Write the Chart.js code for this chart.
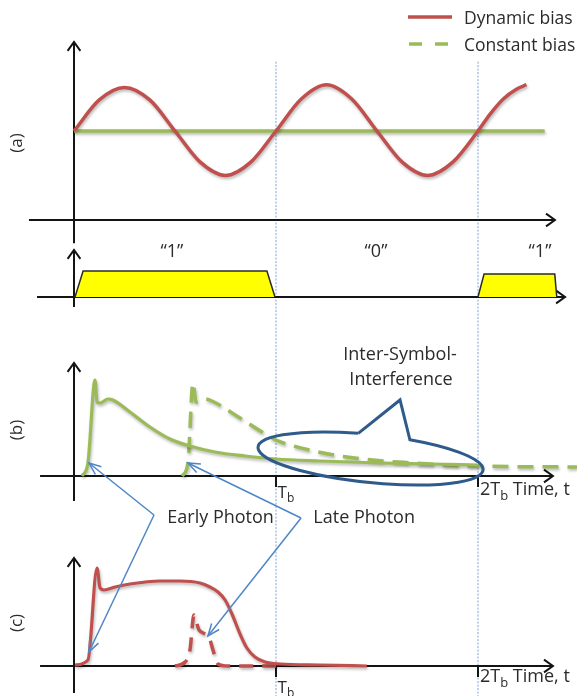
<!DOCTYPE html>
<html>
<head>
<meta charset="utf-8">
<script src="https://cdn.jsdelivr.net/npm/chart.js@4.4.1/dist/chart.umd.min.js"></script>
<style>
html,body{margin:0;padding:0;background:#fff;}
#wrap{position:relative;width:577px;height:696px;}
canvas{display:block;}
</style>
</head>
<body>
<div id="wrap"><canvas id="chart" width="577" height="696"></canvas></div>
<script>
// ===== DATA (time in units of the bit period Tb) =====
// (a) bias
const biasTime     = [0, 0.125, 0.25, 0.375, 0.5, 0.625, 0.75, 0.875, 1.0, 1.125, 1.25, 1.375, 1.5, 1.625, 1.75, 1.875, 2.0, 2.06, 2.125, 2.19, 2.24];
const dynamicBias  = [1.0, 1.35, 1.49, 1.35, 1.0, 0.65, 0.5, 0.65, 1.0, 1.36, 1.52, 1.36, 1.0, 0.65, 0.5, 0.65, 1.0, 1.19, 1.36, 1.47, 1.52];
const constTime    = [0, 2.33];
const constantBias = [1.0, 1.0];
// bit pattern
const bitLabels  = ['\u201C1\u201D', '\u201C0\u201D', '\u201C1\u201D'];
const bitCenters = [0.485, 1.495, 2.307];
const bit1Time   = [0.005, 0.045, 0.955, 0.995];
const bit1Level  = [0, 1, 1, 0];
const bit3Time   = [2.0, 2.03, 2.38, 2.39];
const bit3Level  = [0, 0.88, 0.88, 0];
// (b) constant-bias detector response
const earlyConstTime = [0.040, 0.069, 0.104, 0.114, 0.129, 0.168, 0.193, 0.277, 0.376, 0.475, 0.574, 0.698, 0.847, 1.0, 1.218, 1.515, 1.762, 1.995];
const earlyConst     = [0, 0.13, 0.96, 0.74, 0.73, 0.77, 0.76, 0.64, 0.49, 0.37, 0.30, 0.24, 0.20, 0.17, 0.15, 0.13, 0.12, 0.11];
const lateConstTime  = [0.535, 0.564, 0.589, 0.604, 0.649, 0.683, 0.822, 0.931, 1.0, 1.069, 1.351, 1.678, 1.995, 2.49];
const lateConst      = [0, 0.13, 0.93, 0.74, 0.77, 0.75, 0.58, 0.44, 0.36, 0.31, 0.19, 0.13, 0.10, 0.09];
// (c) dynamic-bias detector response
const earlyDynTime = [0.005, 0.069, 0.114, 0.129, 0.149, 0.203, 0.277, 0.426, 0.525, 0.624, 0.673, 0.713, 0.748, 0.782, 0.822, 0.856, 0.896, 0.946, 1.02, 1.218, 1.45];
const earlyDyn     = [0.01, 0.06, 0.98, 0.78, 0.76, 0.79, 0.82, 0.85, 0.85, 0.83, 0.79, 0.74, 0.66, 0.52, 0.32, 0.18, 0.09, 0.04, 0.02, 0.01, 0.0];
const lateDynTime  = [0.5, 0.55, 0.574, 0.594, 0.619, 0.668, 0.688, 0.713, 0.762, 1.0];
const lateDyn      = [0, 0.04, 0.16, 0.51, 0.36, 0.29, 0.16, 0.02, 0, 0];
// tick labels
const boundaryTimes  = [1, 2];
const boundaryLabels = ['T', '2T'];
const boundarySub    = 'b';
const timeTitle      = ' Time, t';
const legendLabels   = ['Dynamic bias', 'Constant bias'];
const panelLabels    = ['(a)', '(b)', '(c)'];

// ===== LAYOUT / STYLE =====
const W = 577, H = 696, X0PX = 74, TBPX = 202;
const PANELS = { yA:{base:220, unit:89}, yD:{base:297, unit:26}, yB:{base:476, unit:100}, yC:{base:666, unit:100} };
const COL = { red:'#c0504d', green:'#9bbb59', yellow:'#ffff00', axis:'#141414', guide:'rgba(90,140,205,0.8)',
              callout:'#2f5b8c', arrow:'#4f86c6', text:'#2b2b2b' };
const FONT = "'Open Sans', 'DejaVu Sans', sans-serif";
const AXES = [
  {y:'yA', x0:-0.223, x1:2.381, y0:-0.26, y1:2.0},
  {y:'yD', x0:-0.183, x1:2.431, y0:-0.38, y1:1.81},
  {y:'yB', x0:-0.168, x1:2.371, y0:-0.25, y1:1.13},
  {y:'yC', x0:-0.168, x1:2.371, y0:-0.27, y1:1.08}
];

const pts = (xs, ys) => xs.map((x, i) => ({x, y: ys[i]}));
const yRange = p => ({min: -(H - p.base) / p.unit, max: p.base / p.unit});

function line(ctx, a, b) { ctx.beginPath(); ctx.moveTo(a[0], a[1]); ctx.lineTo(b[0], b[1]); ctx.stroke(); }
function head(ctx, from, to, len, ang) {
  const t = Math.atan2(to[1] - from[1], to[0] - from[0]);
  ctx.beginPath();
  ctx.moveTo(to[0] - len * Math.cos(t - ang), to[1] - len * Math.sin(t - ang));
  ctx.lineTo(to[0], to[1]);
  ctx.lineTo(to[0] - len * Math.cos(t + ang), to[1] - len * Math.sin(t + ang));
  ctx.stroke();
}
function text(ctx, s, x, y, size, align) {
  ctx.font = size + 'px ' + FONT; ctx.fillStyle = COL.text;
  ctx.textAlign = align || 'left'; ctx.textBaseline = 'middle';
  ctx.fillText(s, x, y);
}
function subText(ctx, main, sub, tail, x, y, size) {
  ctx.font = size + 'px ' + FONT; ctx.fillStyle = COL.text; ctx.textAlign = 'left'; ctx.textBaseline = 'middle';
  ctx.fillText(main, x, y); let w = ctx.measureText(main).width;
  ctx.font = Math.round(size * 0.72) + 'px ' + FONT;
  ctx.fillText(sub, x + w, y + size * 0.33); w += ctx.measureText(sub).width;
  if (tail) { ctx.font = size + 'px ' + FONT; ctx.fillText(tail, x + w, y); }
}

const decor = {
  id: 'decor',
  beforeDatasetsDraw(chart) {
    const ctx = chart.ctx, xs = chart.scales.x, S = chart.scales;
    const P = (x, y, id) => [xs.getPixelForValue(x), S[id].getPixelForValue(y)];
    ctx.save();
    ctx.strokeStyle = COL.guide; ctx.lineWidth = 1; ctx.setLineDash([2, 1.5]);
    boundaryTimes.forEach(t => line(ctx, P(t, 1.78, 'yA'), P(t, -0.31, 'yC')));
    ctx.setLineDash([]);
    ctx.strokeStyle = COL.axis; ctx.lineWidth = 2; ctx.lineCap = 'butt';
    AXES.forEach(a => {
      const l = P(a.x0, 0, a.y), r = P(a.x1, 0, a.y), b = P(0, a.y0, a.y), t = P(0, a.y1, a.y);
      line(ctx, l, r); head(ctx, l, r, 11, 0.62);
      line(ctx, b, t); head(ctx, b, t, 11, 0.62);
    });
    ['yB', 'yC'].forEach(id => boundaryTimes.forEach(t => line(ctx, P(t, 0, id), P(t, -0.11, id))));
    ctx.restore();
  },
  beforeDatasetDraw(chart, args) {
    const ds = chart.data.datasets[args.index];
    chart.ctx.save();
    if (ds.shadow) {
      chart.ctx.shadowColor = 'rgba(0,0,0,0.28)'; chart.ctx.shadowBlur = 3;
      chart.ctx.shadowOffsetX = 1; chart.ctx.shadowOffsetY = 2;
    }
  },
  afterDatasetDraw(chart) { chart.ctx.restore(); },
  afterDatasetsDraw(chart) {
    const ctx = chart.ctx, xs = chart.scales.x, S = chart.scales;
    const P = (x, y, id) => [xs.getPixelForValue(x), S[id].getPixelForValue(y)];
    ctx.save();
    // ISI callout ellipse
    const eL = P(0.911, 0.29, 'yB'), eR = P(2.025, 0.06, 'yB');
    const cx = (eL[0] + eR[0]) / 2, cy = (eL[1] + eR[1]) / 2;
    const ea = Math.hypot(eR[0] - eL[0], eR[1] - eL[1]) / 2, rot = Math.atan2(eR[1] - eL[1], eR[0] - eL[0]);
    const eb = Math.abs(S.yB.getPixelForValue(0) - S.yB.getPixelForValue(0.24));
    const param = p => { const dx = p[0] - cx, dy = p[1] - cy;
      const u = dx * Math.cos(rot) + dy * Math.sin(rot), v = -dx * Math.sin(rot) + dy * Math.cos(rot);
      return Math.atan2(v / eb, u / ea); };
    const onE = t => { const u = ea * Math.cos(t), v = eb * Math.sin(t);
      return [cx + u * Math.cos(rot) - v * Math.sin(rot), cy + u * Math.sin(rot) + v * Math.cos(rot)]; };
    const tL = param(P(1.416, 0.39, 'yB')), tR = param(P(1.629, 0.33, 'yB')), tip = P(1.614, 0.76, 'yB');
    ctx.strokeStyle = COL.callout; ctx.lineWidth = 3; ctx.lineJoin = 'miter';
    ctx.beginPath(); ctx.ellipse(cx, cy, ea, eb, rot, tL, tR, true);
    ctx.lineTo(tip[0], tip[1]); const s0 = onE(tL); ctx.lineTo(s0[0], s0[1]); ctx.stroke();
    // photon arrows
    ctx.strokeStyle = COL.arrow; ctx.lineWidth = 1.5; ctx.lineJoin = 'miter';
    const arrows = [
      {v: P(0.396, -0.39, 'yB'), tips: [P(0.074, 0.13, 'yB'), P(0.074, 0.14, 'yC')]},
      {v: P(1.124, -0.42, 'yB'), tips: [P(0.564, 0.13, 'yB'), P(0.663, 0.30, 'yC')]}
    ];
    arrows.forEach(a => a.tips.forEach(t => { line(ctx, a.v, t); head(ctx, a.v, t, 13, 0.38); }));
    // texts
    const fs = 18;
    bitLabels.forEach((s, i) => { const p = P(bitCenters[i], 1.73, 'yD'); text(ctx, s, p[0], p[1], fs, 'center'); });
    let p = P(1.614, 1.21, 'yB'); text(ctx, 'Inter-Symbol-', p[0], p[1], fs, 'center');
    p = P(1.619, 0.96, 'yB'); text(ctx, 'Interference', p[0], p[1], fs, 'center');
    p = P(0.462, -0.42, 'yB'); text(ctx, 'Early Photon', p[0], p[1], fs);
    p = P(1.185, -0.42, 'yB'); text(ctx, 'Late Photon', p[0], p[1], fs);
    p = P(1.008, -0.17, 'yB'); subText(ctx, boundaryLabels[0], boundarySub, '', p[0], p[1], 17);
    p = P(2.01, -0.14, 'yB'); subText(ctx, boundaryLabels[1], boundarySub, timeTitle, p[0], p[1], 18);
    p = P(1.008, -0.22, 'yC'); subText(ctx, boundaryLabels[0], boundarySub, '', p[0], p[1], 17);
    p = P(2.01, -0.11, 'yC'); subText(ctx, boundaryLabels[1], boundarySub, timeTitle, p[0], p[1], 18);
    [['yA', 0.865], ['yB', 0.46], ['yC', 0.43]].forEach((q, i) => {
      const pp = P(-0.282, q[1], q[0]);
      ctx.save(); ctx.translate(pp[0], pp[1]); ctx.rotate(-Math.PI / 2);
      text(ctx, panelLabels[i], 0, 0, 17, 'center'); ctx.restore();
    });
    // legend
    ctx.lineWidth = 3.5; ctx.strokeStyle = COL.red; line(ctx, [408, 17], [452, 17]);
    ctx.strokeStyle = COL.green; ctx.setLineDash([13, 13]); line(ctx, [409, 44], [452, 44]); ctx.setLineDash([]);
    text(ctx, legendLabels[0], 464, 19, 17.5);
    text(ctx, legendLabels[1], 464, 46, 17.5);
    ctx.restore();
  }
};

const curve = (label, xs, ys, yId, color, extra) => Object.assign({
  label, data: pts(xs, ys), yAxisID: yId, xAxisID: 'x', borderColor: color, borderWidth: 3.5,
  pointRadius: 0, fill: false, cubicInterpolationMode: 'monotone', shadow: true
}, extra || {});

new Chart(document.getElementById('chart'), {
  type: 'line',
  data: {
    datasets: [
      curve('Dynamic bias', biasTime, dynamicBias, 'yA', COL.red),
      curve('Constant bias', constTime, constantBias, 'yA', COL.green),
      curve('Early photon (constant bias)', earlyConstTime, earlyConst, 'yB', COL.green, {borderWidth: 3.2}),
      curve('Late photon (constant bias)', lateConstTime, lateConst, 'yB', COL.green, {borderWidth: 3.5, borderDash: [16, 9]}),
      curve('Early photon (dynamic bias)', earlyDynTime, earlyDyn, 'yC', COL.red, {borderWidth: 3.2}),
      curve('Late photon (dynamic bias)', lateDynTime, lateDyn, 'yC', COL.red, {borderWidth: 3.5, borderDash: [14, 9]}),
      curve('Bit 1', bit1Time, bit1Level, 'yD', '#2a2a2a', {borderWidth: 1.5, cubicInterpolationMode: 'default', tension: 0, fill: 'origin', backgroundColor: COL.yellow, shadow: false}),
      curve('Bit 3', bit3Time, bit3Level, 'yD', '#2a2a2a', {borderWidth: 1.5, cubicInterpolationMode: 'default', tension: 0, fill: 'origin', backgroundColor: COL.yellow, shadow: false})
    ]
  },
  options: {
    responsive: false, animation: false, events: [],
    layout: {padding: 0},
    plugins: {legend: {display: false}, tooltip: {enabled: false}, title: {display: false}},
    scales: {
      x:  {type: 'linear', min: -X0PX / TBPX, max: (W - X0PX) / TBPX, display: false, bounds: 'data'},
      yA: Object.assign({type: 'linear', display: false, bounds: 'data'}, yRange(PANELS.yA)),
      yD: Object.assign({type: 'linear', display: false, bounds: 'data'}, yRange(PANELS.yD)),
      yB: Object.assign({type: 'linear', display: false, bounds: 'data'}, yRange(PANELS.yB)),
      yC: Object.assign({type: 'linear', display: false, bounds: 'data'}, yRange(PANELS.yC))
    }
  },
  plugins: [decor]
});
</script>
</body>
</html>
